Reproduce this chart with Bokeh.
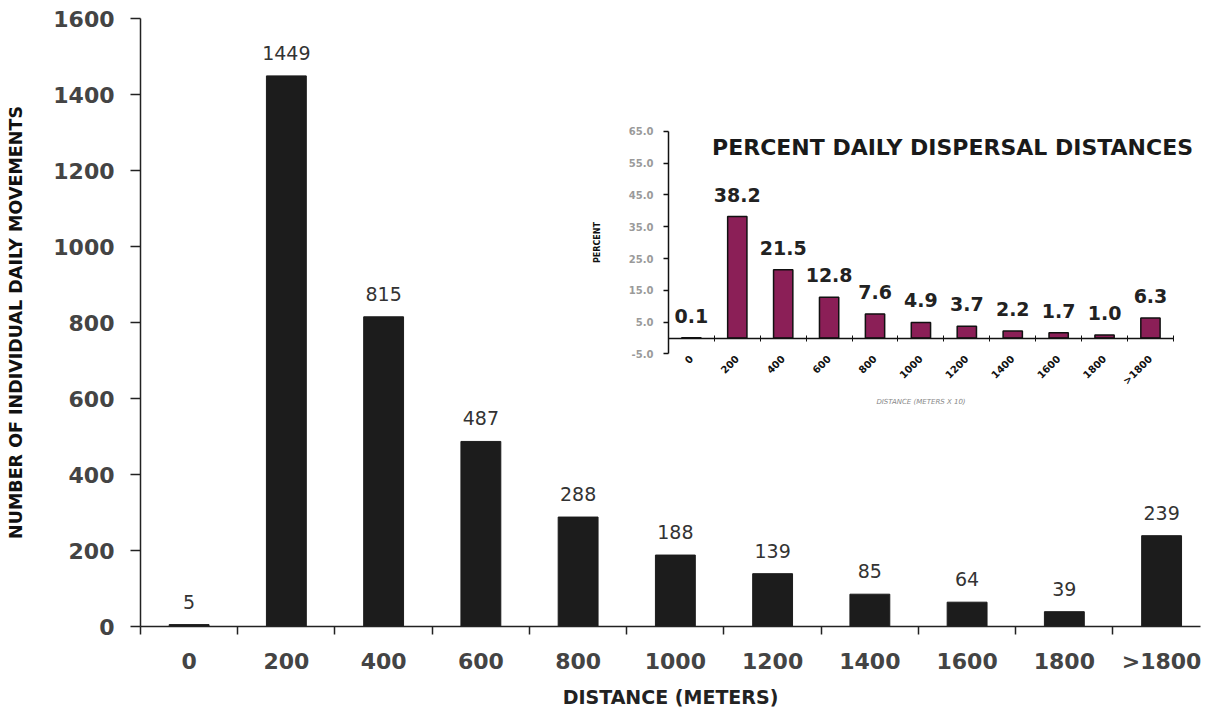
from math import pi
from bokeh.plotting import figure
from bokeh.models import Range1d, LinearAxis, FixedTicker, Label, NumeralTickFormatter
from bokeh.embed import file_html
from bokeh.resources import INLINE
from bokeh.core.properties import value

# ---- data ----
categories = ["0", "200", "400", "600", "800", "1000", "1200", "1400", "1600", "1800", ">1800"]
movements = [5, 1449, 815, 487, 288, 188, 139, 85, 64, 39, 239]
percent = [0.1, 38.2, 21.5, 12.8, 7.6, 4.9, 3.7, 2.2, 1.7, 1.0, 6.3]
main_yticks = [0, 200, 400, 600, 800, 1000, 1200, 1400, 1600]
inset_yticks = [-5, 5, 15, 25, 35, 45, 55, 65]

xpos = list(range(len(categories)))
boundaries = [i - 0.5 for i in range(len(categories) + 1)]
FONT = "DejaVu Sans"

p = figure(width=1205, height=710, output_backend="svg", toolbar_location=None,
           x_range=Range1d(-0.5, 10.4), y_range=Range1d(0, 1600),
           min_border_left=140, min_border_top=18, min_border_bottom=83, min_border_right=5)
p.xgrid.visible = False
p.ygrid.visible = False
p.outline_line_color = None
p.background_fill_color = "white"
p.border_fill_color = "white"

# ---- main bars ----
p.vbar(x=xpos, top=movements, width=0.41, fill_color="#1c1c1c", line_color="#1c1c1c")
p.text(x=xpos, y=movements, text=[str(v) for v in movements],
       text_align="center", text_baseline="bottom", y_offset=-16,
       text_font=value(FONT), text_font_size="19px", text_color="#333333")

# main y axis
ya = p.yaxis[0]
ya.ticker = FixedTicker(ticks=main_yticks)
ya.major_tick_out = 10
ya.major_tick_in = 0
ya.minor_tick_out = 0
ya.minor_tick_in = 0
ya.major_label_standoff = 16
ya.major_label_text_font = FONT
ya.major_label_text_font_style = "bold"
ya.major_label_text_font_size = "22px"
ya.major_label_text_color = "#444444"
ya.axis_line_color = "#222222"
ya.axis_line_width = 1.5
ya.major_tick_line_color = "#222222"
ya.major_tick_line_width = 1.5
ya.axis_label = "NUMBER OF INDIVIDUAL DAILY MOVEMENTS"
ya.axis_label_text_font = FONT
ya.axis_label_text_font_style = "bold"
ya.axis_label_text_font_size = "17.5px"
ya.axis_label_text_color = "#111111"
ya.axis_label_standoff = 24

# main x axis
xa = p.xaxis[0]
xa.ticker = FixedTicker(ticks=xpos, minor_ticks=boundaries)
xa.major_label_overrides = {i: c for i, c in zip(xpos, categories)}
xa.major_tick_out = 0
xa.major_tick_in = 0
xa.minor_tick_out = 8
xa.minor_tick_in = 0
xa.minor_tick_line_color = "#222222"
xa.minor_tick_line_width = 1.5
xa.axis_line_color = "#222222"
xa.axis_line_width = 1.5
xa.major_label_standoff = 14
xa.major_label_text_font = FONT
xa.major_label_text_font_style = "bold"
xa.major_label_text_font_size = "22px"
xa.major_label_text_color = "#444444"
xa.axis_label = "DISTANCE (METERS)"
xa.axis_label_text_font = FONT
xa.axis_label_text_font_style = "bold"
xa.axis_label_text_font_size = "19px"
xa.axis_label_text_color = "#222222"
xa.axis_label_standoff = 9

# ---- inset chart (own ranges inside the same frame) ----
p.extra_x_ranges = {"ix": Range1d(-12.0, 11.09)}
p.extra_y_ranges = {"iy": Range1d(-90.68, 100.47)}

p.vbar(x=xpos, top=percent, bottom=0, width=0.42, x_range_name="ix", y_range_name="iy",
       fill_color="#8b1f57", line_color="#111111", line_width=1.5)
p.text(x=xpos, y=percent, text=[f"{v:.1f}" for v in percent],
       x_range_name="ix", y_range_name="iy",
       text_align="center", text_baseline="bottom", y_offset=-15,
       text_font=value(FONT), text_font_style="bold", text_font_size="19px",
       text_color="#222222")

iya = LinearAxis(x_range_name="ix", y_range_name="iy", fixed_location=-0.5, bounds=(-5, 65),
                 ticker=FixedTicker(ticks=inset_yticks), formatter=NumeralTickFormatter(format="0.0"))
iya.major_tick_out = 5
iya.major_tick_in = 0
iya.minor_tick_out = 0
iya.minor_tick_in = 0
iya.axis_line_color = "#111111"
iya.axis_line_width = 1.5
iya.major_tick_line_color = "#111111"
iya.major_tick_line_width = 1.5
iya.major_label_standoff = 10
iya.major_label_text_font = FONT
iya.major_label_text_font_style = "bold"
iya.major_label_text_font_size = "10px"
iya.major_label_text_color = "#9a9a9a"
iya.axis_label = "PERCENT"
iya.axis_label_text_font = FONT
iya.axis_label_text_font_style = "bold"
iya.axis_label_text_font_size = "8px"
iya.axis_label_text_color = "#111111"
iya.axis_label_standoff = 24
p.add_layout(iya, "left")

ixa = LinearAxis(x_range_name="ix", y_range_name="iy", fixed_location=0, bounds=(-0.5, 10.5),
                 ticker=FixedTicker(ticks=xpos, minor_ticks=boundaries))
ixa.major_label_overrides = {i: c for i, c in zip(xpos, categories)}
ixa.major_label_orientation = pi / 4
ixa.major_tick_out = 0
ixa.major_tick_in = 0
ixa.minor_tick_out = 3
ixa.minor_tick_in = 3
ixa.minor_tick_line_color = "#111111"
ixa.axis_line_color = "#111111"
ixa.axis_line_width = 1.5
ixa.major_label_standoff = 16
ixa.major_label_text_font = FONT
ixa.major_label_text_font_style = "bold"
ixa.major_label_text_font_size = "10px"
ixa.major_label_text_color = "#111111"
ixa.axis_label = "DISTANCE (METERS X 10)"
ixa.axis_label_text_font = FONT
ixa.axis_label_text_font_size = "7px"
ixa.axis_label_text_color = "#888888"
ixa.axis_label_standoff = 4
p.add_layout(ixa, "below")

p.add_layout(Label(x=0.45, y=60, x_range_name="ix", y_range_name="iy",
                   text="PERCENT DAILY DISPERSAL DISTANCES",
                   text_font=FONT, text_font_style="bold", text_font_size="22px",
                   text_color="#1a1a1a", text_baseline="middle"))

open("out.html", "w").write(file_html(p, INLINE))
